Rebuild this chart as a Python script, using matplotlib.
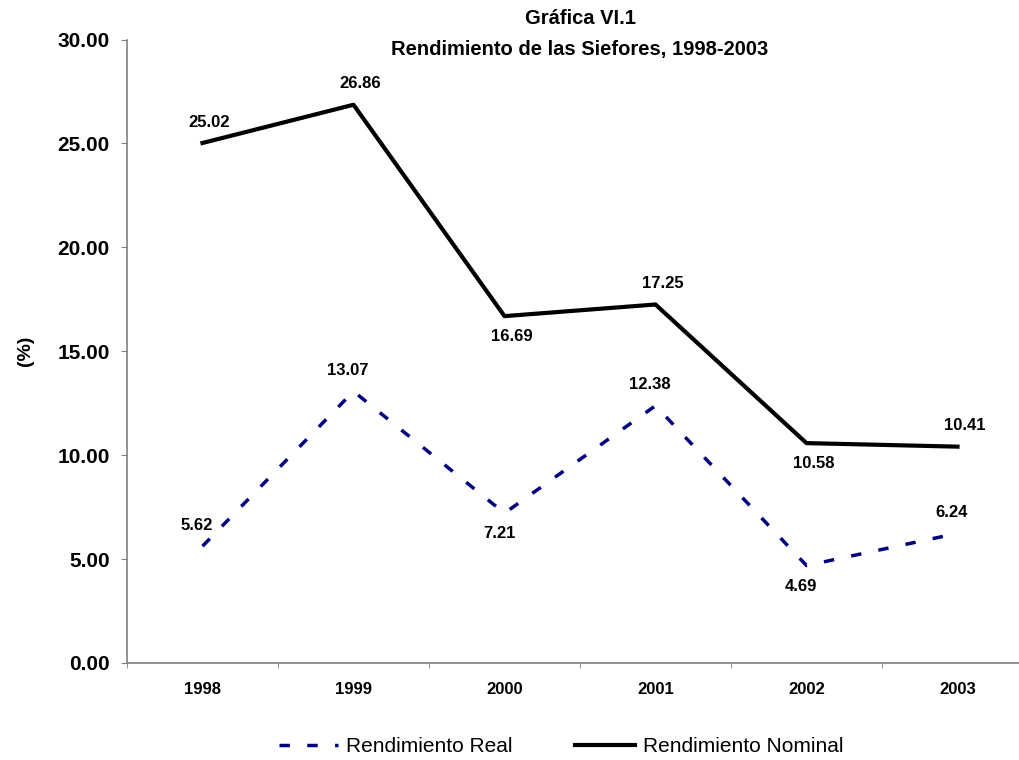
import numpy as np
import matplotlib
matplotlib.use("Agg")
import matplotlib.pyplot as plt

plt.rcParams['font.family'] = ['Liberation Sans', 'DejaVu Sans']

# rendimientos anuales de las siefores (%)
anios = ['1998', '1999', '2000', '2001', '2002', '2003']
rend_nominal = [25.02, 26.86, 16.69, 17.25, 10.58, 10.41]
rend_real = [5.62, 13.07, 7.21, 12.38, 4.69, 6.24]
# etiqueta arriba (+1) o abajo (-1) del punto
pos_nominal = [1, 1, -1, 1, -1, 1]
pos_real = [1, 1, -1, 1, -1, 1]

fig = plt.figure(figsize=(10.2, 7.6), dpi=100)
ax = fig.add_axes([127 / 1020, 1 - 663 / 760, 906 / 1020, 623.5 / 760])

x = np.arange(len(anios))
ax.plot(x, rend_real, color='#000080', lw=2.5, dashes=(3.0, 5.0),
        label='Rendimiento Real')
ax.plot(x, rend_nominal, color='black', lw=3.0, label='Rendimiento Nominal')

for xi, v, p in zip(x, rend_nominal, pos_nominal):
    ax.annotate(f'{v:.2f}', (xi, v), xytext=(5, 15 * p), textcoords='offset points',
                ha='center', va='center', fontsize=12, fontweight='bold')
for xi, v, p in zip(x, rend_real, pos_real):
    ax.annotate(f'{v:.2f}', (xi, v), xytext=(-4, 15 * p), textcoords='offset points',
                ha='center', va='center', fontsize=12, fontweight='bold')

ax.set_xlim(-0.5, 5.5)
ax.set_ylim(0, 30)
ax.set_yticks(np.arange(0, 31, 5))
ax.set_yticklabels([f'{t:.2f}' for t in np.arange(0, 31, 5)], fontsize=15, fontweight='bold')
ax.set_xticks(x)
ax.set_xticklabels(anios, fontsize=12, fontweight='bold')
ax.set_xticks(np.arange(-0.5, 6, 1), minor=True)
ax.tick_params(axis='x', which='major', length=0, pad=14)
ax.tick_params(axis='x', which='minor', length=3.6, color='#808080', direction='out')
ax.tick_params(axis='y', length=4.5, color='#808080', pad=8)

for s in ['top', 'right']:
    ax.spines[s].set_visible(False)
for s in ['left', 'bottom']:
    ax.spines[s].set_color('#808080')
    ax.spines[s].set_linewidth(1.2)

ax.set_ylabel('(%)', fontsize=14, fontweight='bold', labelpad=17)

fig.text(580 / 1020, 1 - 19 / 760, 'Gráfica VI.1', ha='center', va='center',
         fontsize=14.5, fontweight='bold')
fig.text(580 / 1020, 1 - 49 / 760, 'Rendimiento de las Siefores, 1998-2003',
         ha='center', va='center', fontsize=14.5, fontweight='bold')

fig.legend(loc='center', bbox_to_anchor=(561 / 1020, 1 - 747 / 760), ncol=2,
           frameon=False, fontsize=15, handlelength=2.85, handletextpad=0.4,
           columnspacing=3.0)

fig.savefig('out.png', dpi=100)
